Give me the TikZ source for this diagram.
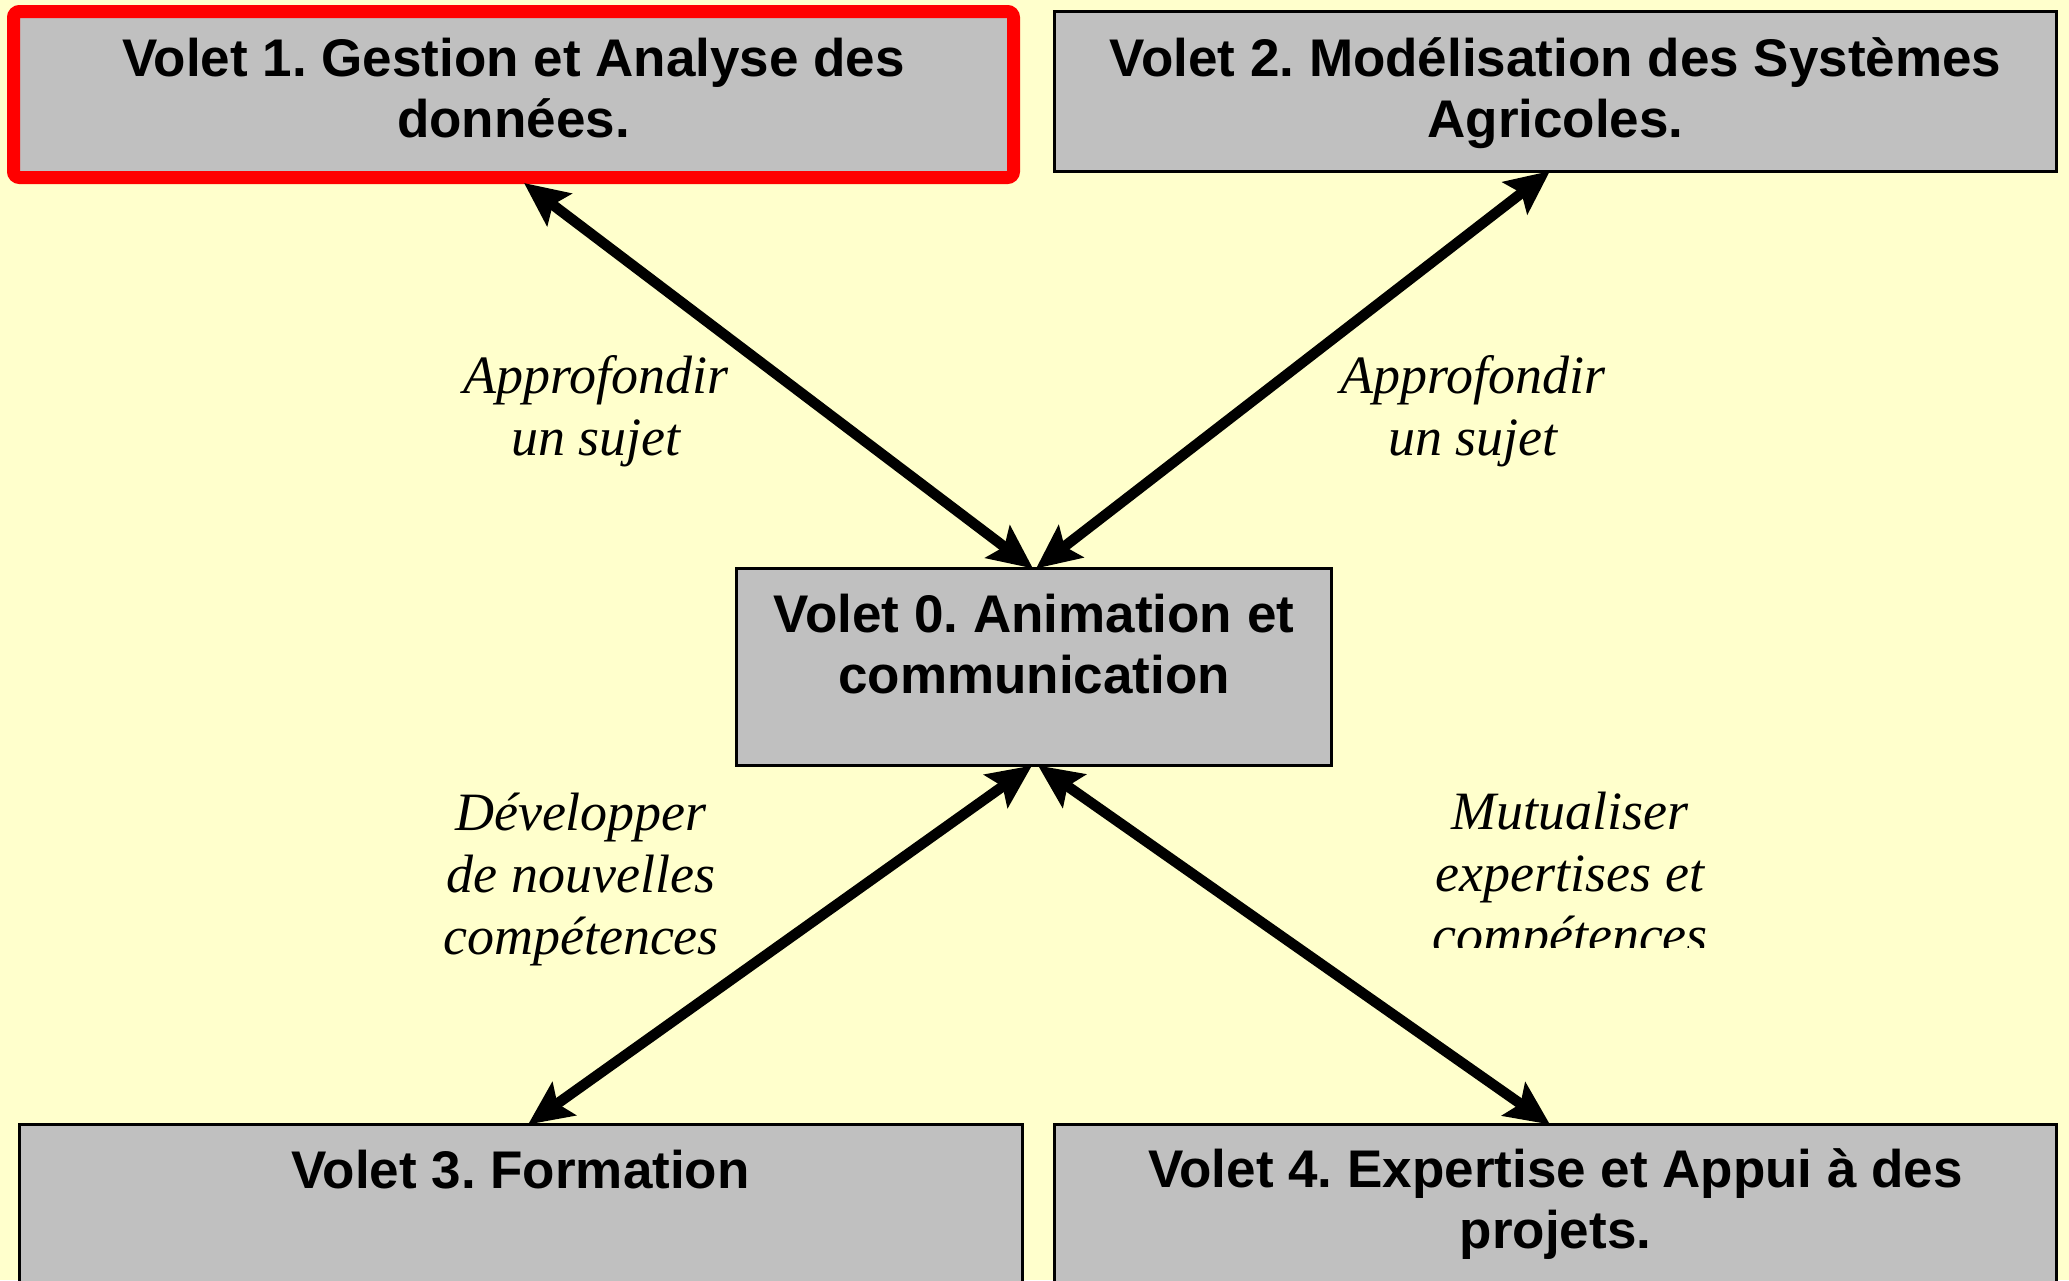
\documentclass[tikz,border=0pt]{standalone}
\usepackage{fontspec}
\setmainfont{Liberation Sans}
\newfontfamily\labelfont{Liberation Serif}
\usetikzlibrary{arrows.meta}
\definecolor{bgyellow}{HTML}{FFFFCC}
\definecolor{boxgray}{HTML}{C0C0C0}
\frenchspacing
\begin{document}
\begin{tikzpicture}[x=1pt,y=-1pt,
  volet/.style={draw=black, line width=3pt, fill=boxgray, inner sep=0pt, outer sep=0pt, align=center, anchor=north,
    font=\bfseries\fontsize{53}{61}\selectfont},
  lbl/.style={align=center, anchor=base, inner sep=0pt,
    font=\labelfont\itshape\fontsize{54}{62}\selectfont},
  conn/.style={line width=10.5pt, {Stealth[length=44pt,width=40pt,inset=8pt]}-{Stealth[length=44pt,width=40pt,inset=8pt]}}]
\useasboundingbox (0,0) rectangle (2069,1280);
\begin{scope}
\clip (0,0) rectangle (2069,1280);
\fill[bgyellow] (0,0) rectangle (2069,1280);

\node[volet, draw=red, line width=13pt, rounded corners=6pt, minimum width=1000pt,
      text height=125.5pt, text depth=40.5pt] (b1) at (513.5,11.5) {Volet 1. Gestion et Analyse des\\données.};
\node[volet, minimum width=1002pt, text height=125.5pt, text depth=34pt] (b2) at (1555.5,11.5)
  {Volet 2. Modélisation des Systèmes\\Agricoles.};
\node[volet, minimum width=595pt, text height=124.5pt, text depth=72.5pt] (b0) at (1034,568.5)
  {Volet 0. Animation et\\communication};
\node[volet, minimum width=1003pt, text height=63.5pt, text depth=150pt] (b3) at (520.5,1124.5)
  {Volet 3. Formation};
\node[volet, minimum width=1002pt, text height=123.5pt, text depth=90pt] (b4) at (1555.5,1124.5)
  {Volet 4. Expertise et Appui à des\\projets.};

\node[lbl] (l1) at (596,455) {Approfondir\\un sujet};
\node[lbl] (l2) at (1473,455) {Approfondir\\un sujet};
\node[lbl] (l3) at (581,954) {Développer\\de nouvelles\\compétences};
\begin{scope}
\clip (1380,760) rectangle (1760,947);
\node[lbl] (l4) at (1570,953) {Mutualiser\\expertises et\\compétences};
\end{scope}

\draw[conn] ([xshift=10.5pt,yshift=-5.5pt]b1.south) -- ([xshift=-1pt]b0.north);
\draw[conn] ([xshift=-5.5pt]b2.south) -- ([xshift=2pt]b0.north);
\draw[conn] ([xshift=-2pt]b0.south) -- ([xshift=7.5pt]b3.north);
\draw[conn] ([xshift=4pt]b0.south) -- ([xshift=-5.5pt]b4.north);
\end{scope}
\end{tikzpicture}
\end{document}
